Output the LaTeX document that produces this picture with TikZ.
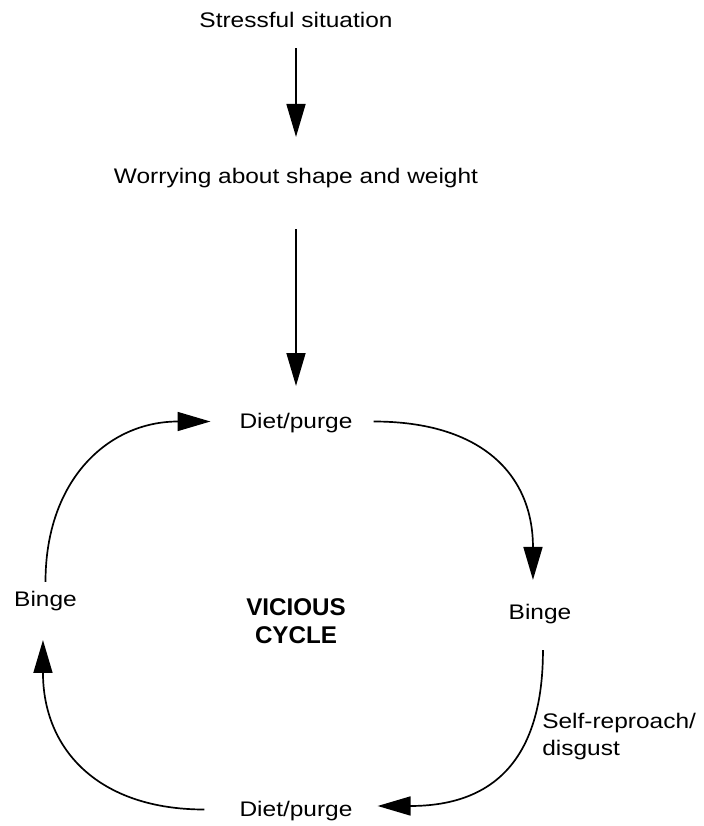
\documentclass[tikz,border=0pt]{standalone}
\usepackage{fontspec}
\setmainfont{Liberation Sans}[FakeStretch=1.16]
\newfontfamily\cyclefont{Liberation Sans}
\usetikzlibrary{arrows.meta}

\begin{document}
\begin{tikzpicture}[x=0.025cm, y=-0.025cm,
  lbl/.style={inner sep=0pt, text height=10.6pt, text depth=0pt, font=\fontsize{15}{19}\selectfont},
  arr/.style={-{Triangle[length=23.4pt, width=13.5pt]}, line width=1.2pt}]
\useasboundingbox (0,0) rectangle (703,826);
\node (stress) [lbl] at (296,20.5) {Stressful situation};
\node (worry) [lbl] at (296,176) {Worrying about shape and weight};
\node (diet1) [lbl] at (296,421.5) {Diet/purge};
\node (bingeL) [lbl] at (45.5,599) {Binge};
\node (bingeR) [lbl] at (540,612.5) {Binge};
\node (diet2) [lbl] at (296,809.5) {Diet/purge};
\node (vicious) [align=center, inner sep=0pt, font=\cyclefont\bfseries\fontsize{17.2}{19.8}\selectfont] at (296,621) {VICIOUS\\CYCLE};
\node (selfrep) [align=left, inner sep=0pt, anchor=north west, font=\fontsize{15}{19.1}\selectfont] at (542,713) {Self-reproach/\\disgust};
\draw[arr, shorten <=14.2pt, shorten >=22.3pt] (stress) -- (worry);
\draw[arr, shorten <=32.2pt, shorten >=19.8pt] (worry) -- (diet1);
\draw[arr, shorten <=6.7pt, shorten >=20.5pt] (bingeL.north) .. controls +(0,-111.5) and +(-131,0) .. (diet1.west);
\draw[arr, shorten <=14.9pt, shorten >=17.7pt] (diet1.east) .. controls +(129,0) and +(0,-130) .. ([xshift=-5pt]bingeR.north);
\draw[arr, shorten <=21.3pt, shorten >=17.7pt] ([xshift=2.1pt]bingeR.south) .. controls +(0,140) and +(140,0) .. ([yshift=2.5pt]diet2.east);
\draw[arr, shorten <=24.8pt, shorten >=23.7pt] (diet2.west) .. controls +(-140,0) and +(0,143.5) .. ([xshift=-1.8pt]bingeL.south);
\end{tikzpicture}
\end{document}
